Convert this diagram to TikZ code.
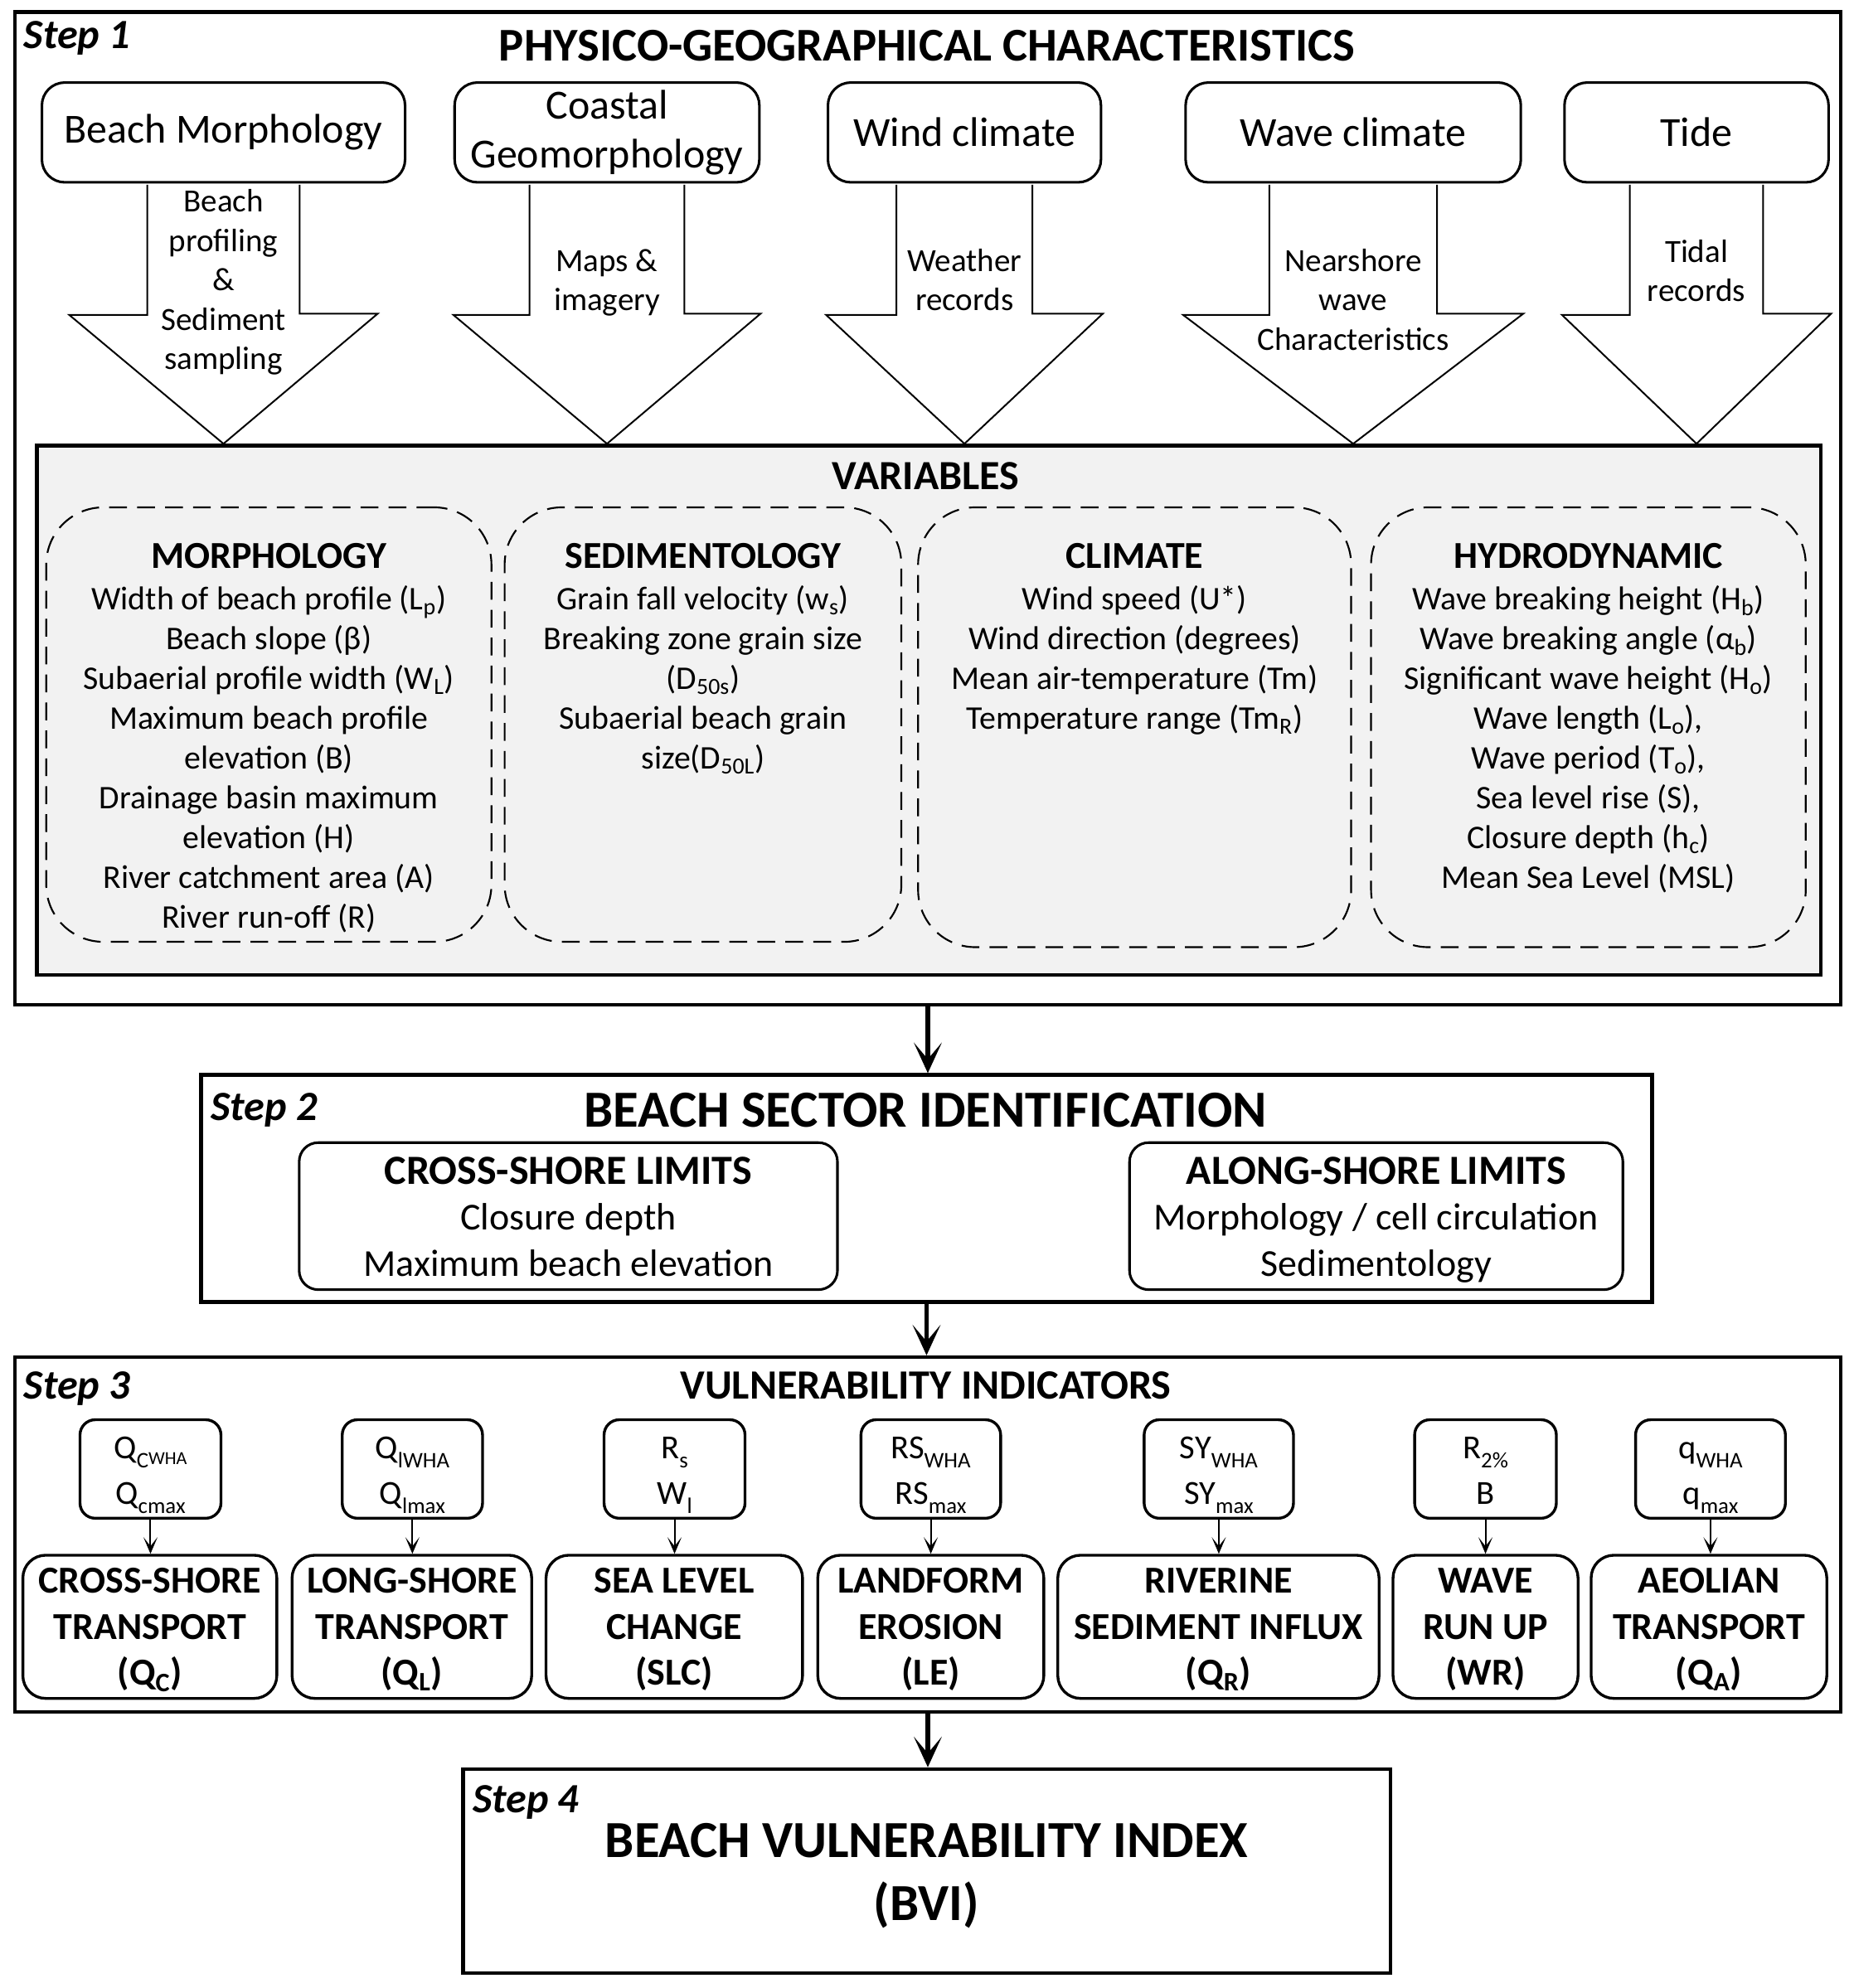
\documentclass[tikz,border=0pt]{standalone}
\usepackage{fontspec}
\setmainfont{Carlito}
\usepackage{tikz}
\usetikzlibrary{arrows.meta}

\newcommand{\idx}[1]{\raisebox{-7pt}{\fontsize{17.5}{17.5}\selectfont #1}}

\tikzset{
	stepframe/.style={draw, line width=3, inner sep=0},
	panel/.style={draw, line width=3, fill=black!5, inner sep=0},
	steplabel/.style={anchor=base west, inner sep=0, font=\bfseries\itshape\fontsize{32.8}{38}\selectfont},
	bighead/.style={anchor=base, inner sep=0, font=\bfseries\fontsize{37}{44}\selectfont},
	srcbox/.style={draw, line width=2, rounded corners=18, fill=white, align=center, inner sep=0, minimum height=78.6, font=\fontsize{32.6}{38.5}\selectfont},
	blockarr/.style={draw, line width=1.3, fill=white, line join=miter},
	arrlabel/.style={anchor=north, align=center, inner sep=0, font=\fontsize{25.5}{31}\selectfont},
	groupbox/.style={draw, line width=1.4, dash pattern=on 14pt off 8pt, rounded corners=45, inner sep=0},
	grouphead/.style={anchor=base, inner sep=0, font=\bfseries\fontsize{30}{34}\selectfont},
	grouplist/.style={anchor=north, align=center, inner sep=0, font=\fontsize{26}{31.3}\selectfont},
	limitbox/.style={draw, line width=2, rounded corners=15, align=center, inner sep=0, minimum height=112.3, font=\fontsize{30}{36}\selectfont},
	indbox/.style={draw, line width=2.2, rounded corners=12, align=center, inner sep=0, minimum height=76, font=\fontsize{26.5}{36}\selectfont},
	compbox/.style={draw, line width=2.2, rounded corners=18, align=center, inner sep=0, minimum height=111.4, font=\bfseries\fontsize{30}{36}\selectfont},
	steparrow/.style={line width=3.5, -{Stealth[length=24pt, width=22pt, inset=13pt]}},
	indarrow/.style={line width=1.3, -{Stealth[length=13pt, width=11pt, inset=7pt]}},
}

\begin{document}
\begin{tikzpicture}[x=1pt,y=1pt]
	\useasboundingbox (0,0) rectangle (1460,-1565.8);

	\node[stepframe, minimum width=1437.9, minimum height=782] (step1) at (730.65,-400.5) {};
	\node[steplabel] (s1) at (18.7,-38.5) {Step 1};
	\node[bighead] (physhead) at (730,-47.8) {PHYSICO-GEOGRAPHICAL CHARACTERISTICS};

	\node[panel, minimum width=1405, minimum height=417] (vars) at (731.5,-559.5) {};
	\node[bighead, font=\bfseries\fontsize{32.7}{38}\selectfont] (varhead) at (729,-385.6) {VARIABLES};

	\node[srcbox, minimum width=286] (bm) at (176,-104.3) {Beach Morphology};
	\node[srcbox, minimum width=240] (cg) at (478,-104.3) {Coastal\\Geomorphology};
	\node[srcbox, minimum width=215] (wc) at (759.5,-104.3) {Wind climate};
	\node[srcbox, minimum width=264] (wv) at (1065.65,-104.3) {Wave climate};
	\node[srcbox, minimum width=208] (td) at (1336,-104.3) {Tide};

	\draw[blockarr] ([xshift=-60pt,yshift=-1pt]bm.south) -- ++(0,-102.4) -- ++(-61.5,0) -- (bm.south |- vars.north) -- ++(121.5,102.5) -- ++(-61.5,0) -- ([xshift=60pt,yshift=-1pt]bm.south);
	\draw[blockarr] ([xshift=-61pt,yshift=-1pt]cg.south) -- ++(0,-102.4) -- ++(-60,0) -- (cg.south |- vars.north) -- ++(121,102.5) -- ++(-60,0) -- ([xshift=61pt,yshift=-1pt]cg.south);
	\draw[blockarr] ([xshift=-53.5pt,yshift=-1pt]wc.south) -- ++(0,-102.4) -- ++(-55.5,0) -- (wc.south |- vars.north) -- ++(109,102.5) -- ++(-55.5,0) -- ([xshift=53.5pt,yshift=-1pt]wc.south);
	\draw[blockarr] ([xshift=-66pt,yshift=-1pt]wv.south) -- ++(0,-102.4) -- ++(-68,0) -- (wv.south |- vars.north) -- ++(134,102.5) -- ++(-68,0) -- ([xshift=66pt,yshift=-1pt]wv.south);
	\draw[blockarr] ([xshift=-52.5pt,yshift=-1pt]td.south) -- ++(0,-102.4) -- ++(-53.5,0) -- (td.south |- vars.north) -- ++(106,102.5) -- ++(-53.5,0) -- ([xshift=52.5pt,yshift=-1pt]td.south);

	\node[arrlabel] (bmsrc) at (176,-145) {\strut Beach\\profiling\\\&\\Sediment\\sampling};
	\node[arrlabel] (cgsrc) at (478,-191.7) {\strut Maps \&\\imagery};
	\node[arrlabel] (wcsrc) at (759.5,-191.7) {\strut Weather\\records};
	\node[arrlabel] (wvsrc) at (1065.65,-191.7) {\strut Nearshore\\wave\\Characteristics};
	\node[arrlabel] (tdsrc) at (1336,-184.7) {\strut Tidal\\records};

	\node[groupbox, minimum width=350.6, minimum height=342.2] (morph) at (211.7,-570.7) {};
	\node[groupbox, minimum width=312.4, minimum height=342.2] (sedi) at (553.6,-570.7) {};
	\node[groupbox, minimum width=341, minimum height=346.4] (clim) at (893.5,-572.8) {};
	\node[groupbox, minimum width=342.3, minimum height=346.4] (hydro) at (1250.85,-572.8) {};

	\node[grouphead] (morphhead) at (211.7,-447.3) {MORPHOLOGY};
	\node[grouphead] (sedihead) at (553.6,-447.3) {SEDIMENTOLOGY};
	\node[grouphead] (climhead) at (893.5,-447.3) {CLIMATE};
	\node[grouphead] (hydrohead) at (1250.85,-447.3) {HYDRODYNAMIC};

	\node[grouplist] (morphlist) at (211.7,-458.4) {\strut Width of beach profile (L\textsubscript{p})\\Beach slope (β)\\Subaerial profile width (W\textsubscript{L})\\Maximum beach profile\\elevation (B)\\Drainage basin maximum\\elevation (H)\\River catchment area (A)\\River run-off (R)};
	\node[grouplist] (sedilist) at (553.6,-458.4) {\strut Grain fall velocity (w\textsubscript{s})\\Breaking zone grain size\\(D\textsubscript{50s})\\Subaerial beach grain\\size(D\textsubscript{50L})};
	\node[grouplist] (climlist) at (893.5,-458.4) {\strut Wind speed (U*)\\Wind direction (degrees)\\Mean air-temperature (Tm)\\Temperature range (Tm\textsubscript{R})};
	\node[grouplist] (hydrolist) at (1250.85,-458.4) {\strut Wave breaking height (H\textsubscript{b})\\Wave breaking angle (α\textsubscript{b})\\Significant wave height (H\textsubscript{o})\\Wave length (L\textsubscript{o}),\\Wave period (T\textsubscript{o}),\\Sea level rise (S),\\Closure depth (h\textsubscript{c})\\Mean Sea Level (MSL)};

	\node[stepframe, minimum width=1142.7, minimum height=178.9] (step2) at (729.65,-936.15) {};
	\node[steplabel] (s2) at (166,-882.6) {Step 2};
	\node[bighead, font=\bfseries\fontsize{41}{48}\selectfont] (sectorhead) at (729,-888) {BEACH SECTOR IDENTIFICATION};
	\node[limitbox, minimum width=423.9] (cross) at (447.55,-957.85) {\rule{0pt}{33pt}{\bfseries\fontsize{32.7}{36}\selectfont CROSS-SHORE LIMITS}\\Closure depth\\Maximum beach elevation\strut};
	\node[limitbox, minimum width=388.5] (along) at (1083.75,-957.85) {\rule{0pt}{33pt}{\bfseries\fontsize{32.7}{36}\selectfont ALONG-SHORE LIMITS}\\Morphology / cell circulation\\Sedimentology\strut};

	\draw[steparrow] (step1.south) -- (step1.south |- step2.north);

	\node[stepframe, minimum width=1437.9, minimum height=279.4] (step3) at (730.65,-1208.7) {};
	\node[steplabel] (s3) at (18.7,-1102) {Step 3};
	\node[bighead, font=\bfseries\fontsize{32.8}{38}\selectfont] (indhead) at (729,-1102) {VULNERABILITY INDICATORS};

	\draw[steparrow] (step2.south) -- (step2.south |- step3.north);

	\node[indbox, minimum width=111] (ind1) at (118.5,-1157) {\rule{0pt}{30.8pt}Q\idx{C\raisebox{2.5pt}{\fontsize{14.5}{14.5}\selectfont WHA}}\\Q\idx{cmax}\strut};
	\node[indbox, minimum width=110.5] (ind2) at (324.75,-1157) {\rule{0pt}{30.8pt}Q\idx{lWHA}\\Q\idx{lmax}\strut};
	\node[indbox, minimum width=111] (ind3) at (531.2,-1157) {\rule{0pt}{30.8pt}R\idx{s}\\W\idx{l}\strut};
	\node[indbox, minimum width=110] (ind4) at (733,-1157) {\rule{0pt}{30.8pt}RS\idx{WHA}\\RS\idx{max}\strut};
	\node[indbox, minimum width=117.6] (ind5) at (959.8,-1157) {\rule{0pt}{30.8pt}SY\idx{WHA}\\SY\idx{max}\strut};
	\node[indbox, minimum width=111.6] (ind6) at (1169.8,-1157) {\rule{0pt}{30.8pt}R\idx{2\%}\\B\strut};
	\node[indbox, minimum width=118] (ind7) at (1347,-1157) {\rule{0pt}{30.8pt}q\idx{WHA}\\q\idx{max}\strut};

	\node[compbox, minimum width=200] (qc) at (118,-1281.3) {\rule{0pt}{30pt}CROSS-SHORE\\TRANSPORT\\(Q\textsubscript{C})\strut};
	\node[compbox, minimum width=188.7] (ql) at (324.35,-1281.3) {\rule{0pt}{30pt}LONG-SHORE\\TRANSPORT\\(Q\textsubscript{L})\strut};
	\node[compbox, minimum width=202] (slc) at (531,-1281.3) {\rule{0pt}{30pt}SEA LEVEL\\CHANGE\\(SLC)\strut};
	\node[compbox, minimum width=178] (le) at (733,-1281.3) {\rule{0pt}{30pt}LANDFORM\\EROSION\\(LE)\strut};
	\node[compbox, minimum width=253] (qr) at (959.5,-1281.3) {\rule{0pt}{30pt}RIVERINE\\SEDIMENT INFLUX\\(Q\textsubscript{R})\strut};
	\node[compbox, minimum width=145.7] (wr) at (1169.85,-1281.3) {\rule{0pt}{30pt}WAVE\\RUN UP\\(WR)\strut};
	\node[compbox, minimum width=185.6] (qa) at (1345.8,-1281.3) {\rule{0pt}{30pt}AEOLIAN\\TRANSPORT\\(Q\textsubscript{A})\strut};

	\draw[indarrow] (ind1.south) -- (ind1.south |- qc.north);
	\draw[indarrow] (ind2.south) -- (ind2.south |- ql.north);
	\draw[indarrow] (ind3.south) -- (ind3.south |- slc.north);
	\draw[indarrow] (ind4.south) -- (ind4.south |- le.north);
	\draw[indarrow] (ind5.south) -- (ind5.south |- qr.north);
	\draw[indarrow] (ind6.south) -- (ind6.south |- wr.north);
	\draw[indarrow] (ind7.south) -- (ind7.south |- qa.north);

	\node[stepframe, minimum width=730.5, minimum height=160.6] (step4) at (729.75,-1473.7) {};
	\node[steplabel] (s4) at (372,-1427.8) {Step 4};
	\node[anchor=north, align=center, inner sep=0, font=\bfseries\fontsize{41}{50}\selectfont] (bvi) at (729.7,-1427.6) {\strut BEACH VULNERABILITY INDEX\\(BVI)};

	\draw[steparrow] (step3.south) -- (step3.south |- step4.north);
\end{tikzpicture}
\end{document}
